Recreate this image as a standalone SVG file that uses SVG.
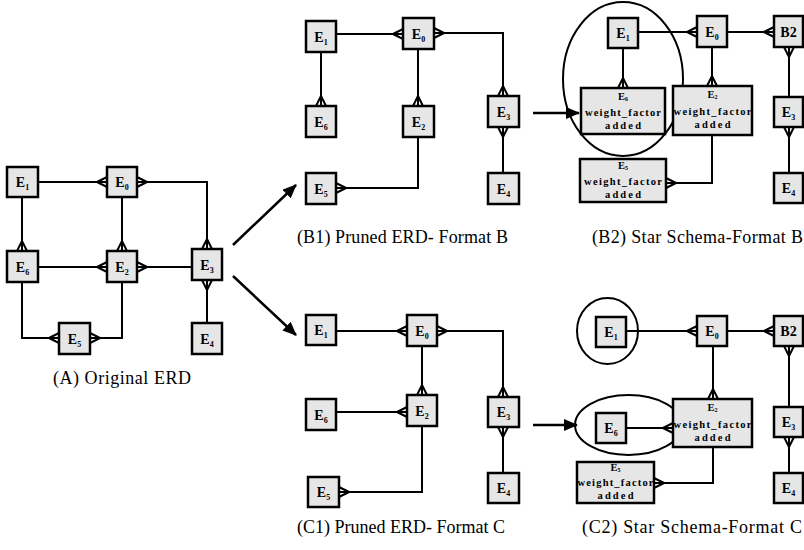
<svg xmlns="http://www.w3.org/2000/svg" width="804" height="550" viewBox="0 0 804 550">
<defs>
<style>
.ent{fill:#e6e6e6;stroke:#000;stroke-width:2.5}
.lbl{font-family:"Liberation Serif","Times New Roman",serif;font-weight:bold;font-size:14px;text-anchor:middle;fill:#000}
.sub{font-size:8px}
.wl{font-family:"Liberation Serif","Times New Roman",serif;font-weight:bold;font-size:10.5px;text-anchor:middle;fill:#000}
.ws{font-size:6px}
.cap{font-family:"Liberation Serif","Times New Roman",serif;font-size:18px;fill:#000}
.con path{fill:none;stroke:#000;stroke-width:2}
.con path.cs{marker-start:url(#crow)}
.con path.ce{marker-end:url(#crow)}
.con path.ar{stroke-width:2.5;marker-end:url(#arr)}
.ell{fill:none;stroke:#000;stroke-width:2}
</style>
<marker id="crow" viewBox="-12 -7 14 14" refX="0" refY="0" markerWidth="14" markerHeight="14" markerUnits="userSpaceOnUse" orient="auto-start-reverse" overflow="visible">
<path d="M-10,0 L0,-5 M-10,0 L0,0 M-10,0 L0,5" fill="none" stroke="#000" stroke-width="2"/>
</marker>
<marker id="arr" viewBox="0 0 14 12" refX="13" refY="6" markerWidth="14" markerHeight="12" markerUnits="userSpaceOnUse" orient="auto">
<path d="M0,0 L14,6 L0,12 Z" fill="#000"/>
</marker>
</defs>

<!-- ellipses (highlight) -->
<ellipse class="ell" cx="623" cy="79" rx="60" ry="77"/>
<ellipse class="ell" cx="607.5" cy="331" rx="30.5" ry="33"/>
<ellipse class="ell" cx="628.5" cy="425" rx="53.5" ry="30"/>

<g class="con" id="connectors">
<!-- Panel A -->
<path class="ce" d="M38,182 H107"/>
<path class="cs ce" d="M137,182 H207 V249"/>
<path class="ce" d="M22,197 V251"/>
<path class="ce" d="M122,197 V251"/>
<path class="ce" d="M38,267 H107"/>
<path class="ce" d="M192,267 H137"/>
<path class="ce" d="M207,323 V280"/>
<path class="ce" d="M22,282 V338 H59"/>
<path class="ce" d="M122,282 V338 H90"/>
<path class="ar" d="M233,245 L296,185"/>
<path class="ar" d="M233,276 L296,335"/>
<!-- Panel B1 -->
<path class="ce" d="M336,34 H403"/>
<path class="cs ce" d="M434,33 H503 V96"/>
<path class="ce" d="M321,52 V106"/>
<path class="ce" d="M418,49 V106"/>
<path class="ce" d="M503,173 V127"/>
<path class="ce" d="M418,137 V188 H336"/>
<path class="ar" d="M533,113 H579"/>
<!-- Panel B2 -->
<path class="ce" d="M638,32 H697"/>
<path class="ce" d="M727,32 H774"/>
<path class="ce" d="M623,48 V88"/>
<path class="ce" d="M712,47 V86"/>
<path class="ce" d="M789,97 V47"/>
<path class="ce" d="M789,173 V127"/>
<path class="ce" d="M712,135 V183 H666"/>
<!-- Panel C1 -->
<path class="ce" d="M336,331 H407"/>
<path class="cs ce" d="M437,331 H503 V397"/>
<path class="ce" d="M422,346 V395"/>
<path class="ce" d="M336,412 H407"/>
<path class="ce" d="M422,426 V492 H339"/>
<path class="ce" d="M503,473 V427"/>
<path class="ar" d="M533,425 H577"/>
<!-- Panel C2 -->
<path class="ce" d="M626,331 H697"/>
<path class="ce" d="M727,331 H774"/>
<path class="ce" d="M713,346 V399"/>
<path class="ce" d="M626,428 H673"/>
<path class="ce" d="M789,407 V346"/>
<path class="ce" d="M789,473 V437"/>
<path class="ce" d="M713,447 V483 H654"/>
</g>

<!-- Panel A nodes -->
<g id="A-E1"><rect class="ent" x="7" y="167" width="31" height="30"/><text class="lbl" x="22.5" y="187">E<tspan class="sub" dy="3">1</tspan></text></g>
<g id="A-E0"><rect class="ent" x="107" y="167" width="30" height="30"/><text class="lbl" x="122" y="187">E<tspan class="sub" dy="3">0</tspan></text></g>
<g id="A-E6"><rect class="ent" x="7" y="251" width="31" height="31"/><text class="lbl" x="22.5" y="271.5">E<tspan class="sub" dy="3">6</tspan></text></g>
<g id="A-E2"><rect class="ent" x="107" y="251" width="30" height="31"/><text class="lbl" x="122" y="271.5">E<tspan class="sub" dy="3">2</tspan></text></g>
<g id="A-E3"><rect class="ent" x="192" y="249" width="30" height="31"/><text class="lbl" x="207" y="269.5">E<tspan class="sub" dy="3">3</tspan></text></g>
<g id="A-E5"><rect class="ent" x="59" y="323" width="31" height="31"/><text class="lbl" x="74.5" y="343.5">E<tspan class="sub" dy="3">5</tspan></text></g>
<g id="A-E4"><rect class="ent" x="192" y="323" width="30" height="31"/><text class="lbl" x="207" y="343.5">E<tspan class="sub" dy="3">4</tspan></text></g>
<text class="cap" x="53" y="384" font-size="19" textLength="138">(A) Original ERD</text>

<!-- Panel B1 nodes -->
<g id="B1-E1"><rect class="ent" x="306" y="21" width="30" height="31"/><text class="lbl" x="321" y="41.5">E<tspan class="sub" dy="3">1</tspan></text></g>
<g id="B1-E0"><rect class="ent" x="403" y="18" width="31" height="31"/><text class="lbl" x="418.5" y="38.5">E<tspan class="sub" dy="3">0</tspan></text></g>
<g id="B1-E6"><rect class="ent" x="306" y="106" width="30" height="31"/><text class="lbl" x="321" y="126.5">E<tspan class="sub" dy="3">6</tspan></text></g>
<g id="B1-E2"><rect class="ent" x="403" y="106" width="31" height="31"/><text class="lbl" x="418.5" y="126.5">E<tspan class="sub" dy="3">2</tspan></text></g>
<g id="B1-E3"><rect class="ent" x="488" y="96" width="31" height="31"/><text class="lbl" x="503.5" y="116.5">E<tspan class="sub" dy="3">3</tspan></text></g>
<g id="B1-E5"><rect class="ent" x="306" y="173" width="30" height="31"/><text class="lbl" x="321" y="193.5">E<tspan class="sub" dy="3">5</tspan></text></g>
<g id="B1-E4"><rect class="ent" x="488" y="173" width="31" height="31"/><text class="lbl" x="503.5" y="193.5">E<tspan class="sub" dy="3">4</tspan></text></g>
<text class="cap" x="297" y="243" textLength="211">(B1) Pruned ERD- Format B</text>

<!-- Panel B2 nodes -->
<g id="B2-E1"><rect class="ent" x="608" y="18" width="30" height="30"/><text class="lbl" x="623" y="38">E<tspan class="sub" dy="3">1</tspan></text></g>
<g id="B2-E0"><rect class="ent" x="697" y="16" width="30" height="31"/><text class="lbl" x="712" y="36.5">E<tspan class="sub" dy="3">0</tspan></text></g>
<g id="B2-B2"><rect class="ent" x="774" y="16" width="29" height="31"/><text class="lbl" x="788.5" y="36.5">B2</text></g>
<g id="B2-E6"><rect class="ent" x="581" y="88" width="84" height="46"/><text class="wl" x="623" y="100">E<tspan class="ws" dy="1">6</tspan></text><text class="wl" x="623" y="116" textLength="76">weight_factor</text><text class="wl" x="623" y="129" textLength="36">added</text></g>
<g id="B2-E2"><rect class="ent" x="673" y="86" width="79" height="49"/><text class="wl" x="712.5" y="98">E<tspan class="ws" dy="1">2</tspan></text><text class="wl" x="712.5" y="115" textLength="78">weight_factor</text><text class="wl" x="712.5" y="128" textLength="36">added</text></g>
<g id="B2-E5"><rect class="ent" x="580" y="159" width="86" height="43"/><text class="wl" x="623" y="169">E<tspan class="ws" dy="1">5</tspan></text><text class="wl" x="623" y="185" textLength="78">weight_factor</text><text class="wl" x="623" y="198" textLength="36">added</text></g>
<g id="B2-E3"><rect class="ent" x="774" y="97" width="29" height="30"/><text class="lbl" x="788.5" y="117">E<tspan class="sub" dy="3">3</tspan></text></g>
<g id="B2-E4"><rect class="ent" x="774" y="173" width="29" height="30"/><text class="lbl" x="788.5" y="193">E<tspan class="sub" dy="3">4</tspan></text></g>
<text class="cap" x="592" y="243" textLength="211">(B2) Star Schema-Format B</text>

<!-- Panel C1 nodes -->
<g id="C1-E1"><rect class="ent" x="306" y="315" width="30" height="30"/><text class="lbl" x="321" y="335">E<tspan class="sub" dy="3">1</tspan></text></g>
<g id="C1-E0"><rect class="ent" x="407" y="315" width="30" height="31"/><text class="lbl" x="422" y="335.5">E<tspan class="sub" dy="3">0</tspan></text></g>
<g id="C1-E6"><rect class="ent" x="306" y="399" width="30" height="31"/><text class="lbl" x="321" y="419.5">E<tspan class="sub" dy="3">6</tspan></text></g>
<g id="C1-E2"><rect class="ent" x="407" y="395" width="30" height="31"/><text class="lbl" x="422" y="415.5">E<tspan class="sub" dy="3">2</tspan></text></g>
<g id="C1-E3"><rect class="ent" x="488" y="397" width="31" height="30"/><text class="lbl" x="503.5" y="417">E<tspan class="sub" dy="3">3</tspan></text></g>
<g id="C1-E5"><rect class="ent" x="308" y="477" width="31" height="30"/><text class="lbl" x="323.5" y="497">E<tspan class="sub" dy="3">5</tspan></text></g>
<g id="C1-E4"><rect class="ent" x="488" y="473" width="31" height="30"/><text class="lbl" x="503.5" y="493">E<tspan class="sub" dy="3">4</tspan></text></g>
<text class="cap" x="297" y="533" textLength="208">(C1) Pruned ERD- Format C</text>

<!-- Panel C2 nodes -->
<g id="C2-E1"><rect class="ent" x="596" y="317" width="30" height="30"/><text class="lbl" x="611" y="337">E<tspan class="sub" dy="3">1</tspan></text></g>
<g id="C2-E0"><rect class="ent" x="697" y="316" width="30" height="30"/><text class="lbl" x="712" y="336">E<tspan class="sub" dy="3">0</tspan></text></g>
<g id="C2-B2"><rect class="ent" x="774" y="316" width="29" height="30"/><text class="lbl" x="788.5" y="336">B2</text></g>
<g id="C2-E6"><rect class="ent" x="596" y="413" width="30" height="30"/><text class="lbl" x="611" y="433">E<tspan class="sub" dy="3">6</tspan></text></g>
<g id="C2-E2"><rect class="ent" x="673" y="399" width="79" height="48"/><text class="wl" x="712.5" y="411">E<tspan class="ws" dy="1">2</tspan></text><text class="wl" x="712.5" y="428" textLength="78">weight_factor</text><text class="wl" x="712.5" y="441" textLength="36">added</text></g>
<g id="C2-E5"><rect class="ent" x="577" y="462" width="77" height="41"/><text class="wl" x="615.5" y="471">E<tspan class="ws" dy="1">5</tspan></text><text class="wl" x="615.5" y="486" textLength="76">weight_factor</text><text class="wl" x="615.5" y="499" textLength="36">added</text></g>
<g id="C2-E3"><rect class="ent" x="774" y="407" width="29" height="30"/><text class="lbl" x="788.5" y="427">E<tspan class="sub" dy="3">3</tspan></text></g>
<g id="C2-E4"><rect class="ent" x="774" y="473" width="29" height="30"/><text class="lbl" x="788.5" y="493">E<tspan class="sub" dy="3">4</tspan></text></g>
<text class="cap" x="582" y="533" textLength="220">(C2) Star Schema-Format C</text>
</svg>
